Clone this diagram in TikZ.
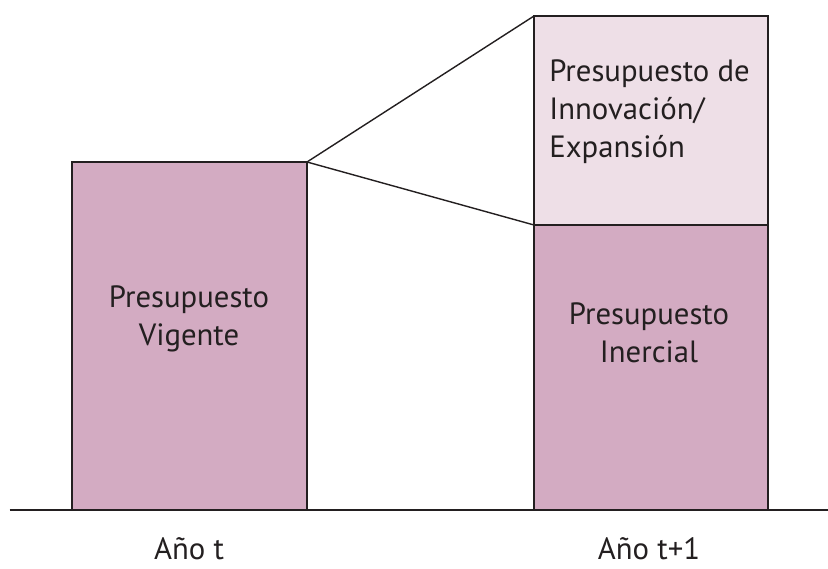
\documentclass[tikz,border=0pt]{standalone}
\usepackage{fontspec}
\setmainfont{PT Sans}
\usetikzlibrary{positioning}
\definecolor{barpink}{RGB}{211,171,194}
\definecolor{lightpink}{RGB}{238,223,231}
\definecolor{edgegray}{RGB}{35,31,32}
\tikzset {
  % budget bars
  bar/.style = {draw=edgegray, fill=barpink, line width=1.4pt, inner sep=0pt, outer sep=0pt, anchor=south west},
  newbar/.style = {bar, fill=lightpink, anchor=south},
  % labels inside and under the bars
  txt/.style = {font=\fontsize{17.5}{21.6}\selectfont, align=center, text=edgegray},
  % zoom lines between the bars
  zoom/.style = {edgegray, line width=0.8pt},
}

\begin{document}
\begin{tikzpicture}
        \useasboundingbox (0,0) rectangle (16.56,11.36);
        \coordinate (axisL) at (0.19,1.16);
        \coordinate (axisR) at (16.56,1.16);
        \draw [edgegray, line width=1.4pt] (axisL) -- (axisR);

        \node[bar, minimum width=4.7cm, minimum height=6.96cm] (vig) at (1.44,1.16) {};
        \node[bar, minimum width=4.68cm, minimum height=5.7cm] (ine) at (10.68,1.16) {};
        \node[newbar, minimum width=4.68cm, minimum height=4.18cm] (inn) at (ine.north) {};

        \draw [zoom] (vig.north east) -- (inn.north west);
        \draw [zoom] (vig.north east) -- (inn.south west);

        \node[txt] (vigtxt) at (3.78,4.98) {Presupuesto\\Vigente};
        \node[txt] (inetxt) at (12.98,4.7) {Presupuesto\\Inercial};
        \node[txt, align=left, anchor=west, inner sep=0pt] (inntxt) at (10.98,9.12) {Presupuesto de\\Innovación/\\Expansión};

        \node[txt] (yr1) at (3.78,0.38) {Año t};
        \node[txt] (yr2) at (12.98,0.38) {Año t+1};
      \end{tikzpicture}
\end{document}
